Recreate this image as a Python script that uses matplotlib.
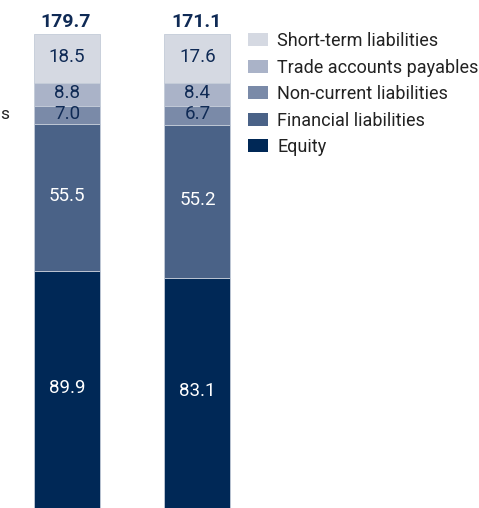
import matplotlib
matplotlib.use("Agg")
import matplotlib.pyplot as plt
import numpy as np

plt.rcParams['font.family'] = ['Roboto', 'DejaVu Sans']

bars = ["2022", "2023"]
totals = [179.7, 171.1]
series = ["Equity", "Financial liabilities", "Non-current liabilities",
          "Trade accounts payables", "Short-term liabilities"]
equity = [89.9, 83.1]
financial = [55.5, 55.2]
noncurrent = [7.0, 6.7]
trade = [8.8, 8.4]
shortterm = [18.5, 17.6]

colors = ["#002856", "#4a6287", "#7a8aa8", "#aab3c8", "#d5d9e2"]
text_colors = ["white", "white", "#0f2a55", "#0f2a55", "#0f2a55"]

W, H = 479, 508
fig = plt.figure(figsize=(W / 100, H / 100), dpi=100)
ax = fig.add_axes([0, 0, 1, 1])
top_frac = (H - 34) / H
ax.set_xlim(0, W)
ax.set_ylim(0, 100 / top_frac)
ax.axis("off")

x = np.array([67, 197.5])
width = 66
values = [equity, financial, noncurrent, trade, shortterm]
bottom = np.zeros(2)
handles = []
for name, vals, c, tc in zip(series, values, colors, text_colors):
    vals = np.array(vals)
    pct = vals / np.array(totals) * 100
    b = ax.bar(x, pct, width, bottom=bottom, color=c, label=name,
               edgecolor="#c3cbd8", linewidth=0.6)
    handles.append(b)
    for xi, bi, pi, v in zip(x, bottom, pct, vals):
        ax.text(xi, bi + pi / 2 + 0.3, f"{v:.1f}", ha="center", va="center",
                fontsize=13.5, color=tc)
    bottom = bottom + pct

for xi, t in zip(x, totals):
    ax.text(xi - 1, 100 + 0.7, f"{t:.1f}", ha="center", va="bottom",
            fontsize=14, fontweight="bold", color="#0f2a55")

ax.text(0, (H - 115) / H * 100 / top_frac, "s", ha="left",
        va="center", fontsize=12.5, color="#222222")

leg = ax.legend(handles=handles[::-1], loc="upper left",
                bbox_to_anchor=(241 / W, 1 - 25 / H), frameon=False,
                prop={"size": 13},
                handlelength=1.1, handleheight=0.72,
                handletextpad=0.5, labelspacing=0.47, borderaxespad=0)
for t in leg.get_texts():
    t.set_color("#222222")
for p in leg.legend_handles:
    p.set_edgecolor("none")

fig.savefig("out.png", dpi=100)
